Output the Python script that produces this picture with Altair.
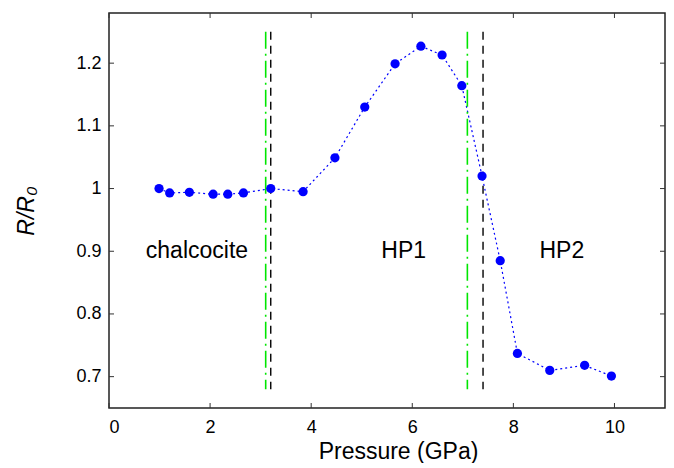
import altair as alt
import pandas as pd

# Data
pressure = [0.99, 1.20, 1.59, 2.06, 2.35, 2.66, 3.20, 3.84, 4.47, 5.06,
            5.66, 6.17, 6.59, 6.98, 7.38, 7.74, 8.08, 8.72, 9.41, 9.94]
ratio = [1.000, 0.993, 0.994, 0.991, 0.991, 0.993, 1.000, 0.995, 1.049, 1.130,
         1.199, 1.227, 1.213, 1.164, 1.020, 0.885, 0.737, 0.710, 0.718, 0.701]

green_lines = [3.10, 7.09]
black_lines = [3.20, 7.40]
line_top = 1.25
line_bottom = 0.68

phase_labels = ["chalcocite", "HP1", "HP2"]
phase_x = [1.74, 5.83, 8.96]
phase_y = [0.90, 0.90, 0.90]

x_ticks = [0, 2, 4, 6, 8, 10]
y_ticks = [0.7, 0.8, 0.9, 1.0, 1.1, 1.2]

W, H = 556, 395
FONT = "Liberation Sans"

df = pd.DataFrame({"p": pressure, "r": ratio})
gdf = pd.DataFrame({"x": green_lines, "y1": [line_top] * 2, "y2": [line_bottom] * 2})
bdf = pd.DataFrame({"x": black_lines, "y1": [line_top] * 2, "y2": [line_bottom] * 2})
tdf = pd.DataFrame({"label": phase_labels, "x": phase_x, "y": phase_y})
xt = pd.DataFrame({"x": x_ticks})
yt = pd.DataFrame({"y": y_ticks})

xscale = alt.Scale(domain=[0, 11], nice=False)
yscale = alt.Scale(domain=[0.65, 1.28], nice=False)

xaxis = alt.Axis(values=x_ticks, ticks=False, domain=False, grid=False,
                 labelFontSize=18, labelFont=FONT, labelColor="black", labelPadding=10,
                 title="Pressure (GPa)", titleFontSize=23, titleFont=FONT,
                 titleFontWeight="normal", titleColor="black", titlePadding=4,
                 titleX=289)
yaxis = alt.Axis(values=y_ticks, ticks=False, domain=False, grid=False, format="~g",
                 labelFontSize=18, labelFont=FONT, labelColor="black", labelPadding=8,
                 title="R/R₀", titleFontSize=23, titleFont=FONT, titleFontStyle="italic",
                 titleFontWeight="normal", titleColor="black", titlePadding=37)

line = alt.Chart(df).mark_line(color="blue", strokeWidth=1.2, strokeDash=[2, 3]).encode(
    x=alt.X("p:Q", scale=xscale, axis=xaxis),
    y=alt.Y("r:Q", scale=yscale, axis=yaxis),
)
pts = alt.Chart(df).mark_circle(color="blue", size=85, opacity=1).encode(
    x=alt.X("p:Q", scale=xscale), y=alt.Y("r:Q", scale=yscale)
)
green = alt.Chart(gdf).mark_rule(color="#00e600", strokeWidth=1.6, strokeDash=[17, 5, 2, 5]).encode(
    x=alt.X("x:Q", scale=xscale), y=alt.Y("y1:Q", scale=yscale), y2="y2:Q"
)
black = alt.Chart(bdf).mark_rule(color="black", strokeWidth=1.4, strokeDash=[8, 6]).encode(
    x=alt.X("x:Q", scale=xscale), y=alt.Y("y1:Q", scale=yscale), y2="y2:Q"
)
texts = alt.Chart(tdf).mark_text(fontSize=23, font=FONT, color="black").encode(
    x=alt.X("x:Q", scale=xscale), y=alt.Y("y:Q", scale=yscale), text="label:N"
)
tick_bottom = alt.Chart(xt).mark_rule(color="#333", strokeWidth=1).encode(
    x=alt.X("x:Q", scale=xscale), y=alt.value(H), y2=alt.value(H - 5)
)
tick_top = alt.Chart(xt).mark_rule(color="#333", strokeWidth=1).encode(
    x=alt.X("x:Q", scale=xscale), y=alt.value(0), y2=alt.value(5)
)
tick_left = alt.Chart(yt).mark_rule(color="#333", strokeWidth=1).encode(
    y=alt.Y("y:Q", scale=yscale), x=alt.value(0), x2=alt.value(5)
)
tick_right = alt.Chart(yt).mark_rule(color="#333", strokeWidth=1).encode(
    y=alt.Y("y:Q", scale=yscale), x=alt.value(W), x2=alt.value(W - 5)
)

chart = alt.layer(
    line, green, black, pts, texts, tick_bottom, tick_top, tick_left, tick_right
).properties(
    width=W, height=H,
    autosize=alt.AutoSizeParams(type="none"),
    padding={"left": 101, "top": 5, "right": 1, "bottom": 55},
).configure_view(stroke="#222", strokeWidth=1.5)

chart.save("out.html", embed_options={"renderer": "svg", "actions": False})
